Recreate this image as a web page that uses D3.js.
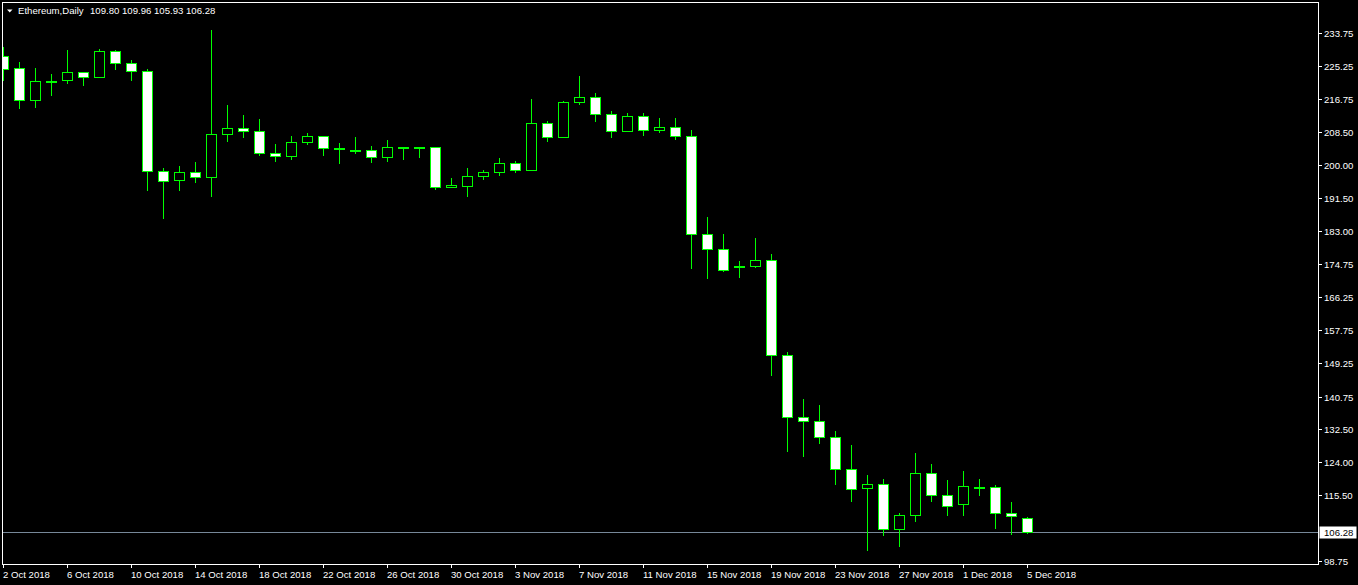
<!DOCTYPE html>
<html>
<head>
<meta charset="utf-8">
<script src="https://cdn.jsdelivr.net/npm/d3@7/dist/d3.min.js"></script>
<style>
  html, body { margin: 0; padding: 0; background: #000; }
  svg { display: block; }
  text { font-family: "Liberation Sans", Arial, sans-serif; }
</style>
</head>
<body>
<svg id="chart" width="1358" height="585"></svg>
<script>
// ---- data ----
const dates = [
  "2018-10-02","2018-10-03","2018-10-04","2018-10-05","2018-10-06","2018-10-07","2018-10-08","2018-10-09",
  "2018-10-10","2018-10-11","2018-10-12","2018-10-13","2018-10-14","2018-10-15","2018-10-16","2018-10-17",
  "2018-10-18","2018-10-19","2018-10-20","2018-10-21","2018-10-22","2018-10-23","2018-10-24","2018-10-25",
  "2018-10-26","2018-10-27","2018-10-28","2018-10-29","2018-10-30","2018-10-31","2018-11-01","2018-11-02",
  "2018-11-03","2018-11-04","2018-11-05","2018-11-06","2018-11-07","2018-11-08","2018-11-09","2018-11-10",
  "2018-11-11","2018-11-12","2018-11-13","2018-11-14","2018-11-15","2018-11-16","2018-11-17","2018-11-18",
  "2018-11-19","2018-11-20","2018-11-21","2018-11-22","2018-11-23","2018-11-24","2018-11-25","2018-11-26",
  "2018-11-27","2018-11-28","2018-11-29","2018-11-30","2018-12-01","2018-12-02","2018-12-03","2018-12-04",
  "2018-12-05"
];
const opens = [
  227.88,224.75,216.55,221.55,221.65,223.75,222.45,229.05,
  226.05,223.95,198.45,196.15,198.20,196.95,207.90,209.45,
  208.65,203.05,202.25,205.85,207.35,204.25,203.95,203.85,
  202.05,204.55,204.55,204.55,194.35,194.75,197.15,198.20,
  200.50,198.70,210.70,207.15,216.05,217.35,213.00,208.65,
  212.45,208.90,209.70,207.35,182.35,178.55,174.20,174.20,
  175.75,151.50,135.45,134.65,130.55,122.40,117.30,118.35,
  106.85,110.40,121.35,115.75,113.25,117.65,117.55,111.15,
  109.80
];
const highs = [
  230.25,226.35,224.80,223.30,229.40,223.75,229.65,229.40,
  226.85,224.45,199.25,199.80,200.85,234.55,215.35,212.85,
  211.80,205.45,207.45,208.25,207.35,205.65,207.25,204.95,
  206.45,204.55,204.55,204.55,196.75,199.25,198.75,201.85,
  201.05,216.95,211.25,216.40,222.75,218.45,213.75,213.25,
  213.25,212.05,212.05,209.00,186.80,182.45,175.55,181.45,
  177.35,152.25,140.10,138.55,131.95,128.35,120.70,119.65,
  111.00,126.35,123.50,119.45,121.75,119.65,118.15,113.80,
  109.96
];
const lows = [
  221.75,214.45,214.95,218.00,221.05,220.55,222.45,224.65,
  221.75,193.65,186.35,193.50,195.55,191.95,206.05,207.05,
  202.45,200.95,201.45,205.25,202.65,200.40,202.95,200.65,
  200.95,201.45,201.95,193.75,194.35,191.95,196.35,197.55,
  198.10,198.70,206.05,207.15,215.55,211.15,207.25,208.65,
  207.55,208.55,206.55,173.60,171.05,172.85,171.30,173.85,
  146.25,126.90,125.65,128.95,118.45,114.15,101.65,105.45,
  102.65,109.05,114.15,110.55,110.55,115.65,107.25,105.70,
  105.93
];
const closes = [
  224.64,216.55,221.45,221.55,223.75,222.45,229.05,226.05,
  223.95,198.45,195.95,198.20,196.95,207.90,209.45,208.65,
  203.05,202.25,205.85,207.35,204.35,204.25,203.95,202.05,
  204.55,204.55,204.55,194.35,194.85,197.15,198.20,200.50,
  198.70,210.70,207.15,216.05,217.35,213.00,208.65,212.45,
  208.90,209.70,207.35,182.35,178.55,173.20,174.20,175.75,
  151.50,135.45,134.65,130.55,122.40,117.05,118.35,106.85,
  110.40,121.35,115.75,112.70,117.80,117.65,111.15,110.15,
  106.28
];
const yTickLabels = ["233.75","225.25","216.75","208.50","200.00","191.50","183.00","174.75",
  "166.25","157.75","149.25","140.75","132.50","124.00","115.50","98.75"];
const xTickDates = ["2018-10-02","2018-10-06","2018-10-10","2018-10-14","2018-10-18","2018-10-22",
  "2018-10-26","2018-10-30","2018-11-03","2018-11-07","2018-11-11","2018-11-15","2018-11-19",
  "2018-11-23","2018-11-27","2018-12-01","2018-12-05"];
const symbolTitle = "Ethereum,Daily";
const lastBar = { open: "109.80", high: "109.96", low: "105.93", close: "106.28" };
const bidPrice = 106.28;

// ---- layout ----
const W = 1358, H = 585;
const plot = { left: 2, top: 2, right: 1318, bottom: 564 };
const GREEN = "#00ff00";
const parse = d3.utcParse("%Y-%m-%d");
const fmt = d3.utcFormat("%-d %b %Y");

const bars = dates.map((d, i) => ({ date: parse(d), o: opens[i], h: highs[i], l: lows[i], c: closes[i] }));

const x = d3.scaleUtc().domain([parse(dates[0]), parse(dates[dates.length - 1])]).range([3, 1027]);
const y = d3.scaleLinear().domain([98.75, 233.75]).range([561, 33]);

const svg = d3.select("#chart");
svg.append("rect").attr("width", W).attr("height", H).attr("fill", "#000");

svg.append("defs").append("clipPath").attr("id", "plotclip")
  .append("rect").attr("x", plot.left + 1).attr("y", plot.top + 1)
  .attr("width", plot.right - plot.left - 1).attr("height", plot.bottom - plot.top - 1);

const g = svg.append("g").attr("clip-path", "url(#plotclip)");

// bid line
const bidY = Math.round(y(bidPrice)) + 0.5;
g.append("line").attr("x1", plot.left).attr("x2", plot.right).attr("y1", bidY).attr("y2", bidY)
  .attr("stroke", "#778899").attr("stroke-width", 1);

// candles
const half = 5;
const cg = g.selectAll("g.candle").data(bars).join("g").attr("class", "candle");
cg.append("line")
  .attr("x1", d => Math.round(x(d.date)) + 0.5)
  .attr("x2", d => Math.round(x(d.date)) + 0.5)
  .attr("y1", d => Math.round(y(d.h)))
  .attr("y2", d => Math.round(y(d.l)) + 1)
  .attr("stroke", GREEN).attr("stroke-width", 1);
cg.append("rect")
  .attr("x", d => Math.round(x(d.date)) - half + 0.5)
  .attr("width", half * 2)
  .attr("y", d => Math.round(y(Math.max(d.o, d.c))) + 0.5)
  .attr("height", d => Math.max(1, Math.round(y(Math.min(d.o, d.c))) - Math.round(y(Math.max(d.o, d.c)))))
  .attr("fill", d => d.c < d.o ? "#ffffff" : "#000000")
  .attr("stroke", GREEN).attr("stroke-width", 1);

// frame
svg.append("rect")
  .attr("x", plot.left + 0.5).attr("y", plot.top + 0.5)
  .attr("width", plot.right - plot.left).attr("height", plot.bottom - plot.top)
  .attr("fill", "none").attr("stroke", "#ffffff").attr("stroke-width", 1);

// y axis
const ya = svg.append("g");
yTickLabels.forEach(t => {
  const yy = Math.round(y(+t)) + 0.5;
  ya.append("line").attr("x1", plot.right + 1).attr("x2", plot.right + 4)
    .attr("y1", yy).attr("y2", yy).attr("stroke", "#ffffff");
  ya.append("text").attr("x", plot.right + 6).attr("y", yy).attr("dy", "0.35em")
    .attr("fill", "#ffffff").attr("font-size", "9.6px").text(t);
});
// bid label box
ya.append("rect").attr("x", plot.right + 1.5).attr("y", bidY - 6)
  .attr("width", 37).attr("height", 12).attr("fill", "#ffffff");
ya.append("text").attr("x", plot.right + 6).attr("y", bidY).attr("dy", "0.35em")
  .attr("fill", "#000000").attr("font-size", "9.6px").text(bidPrice.toFixed(2));

// x axis
const xa = svg.append("g");
xTickDates.forEach(s => {
  const d = parse(s);
  const xx = Math.round(x(d)) + 0.5;
  xa.append("line").attr("x1", xx).attr("x2", xx).attr("y1", plot.bottom + 1).attr("y2", plot.bottom + 4)
    .attr("stroke", "#ffffff");
  xa.append("text").attr("x", xx - 0.5).attr("y", 577.5)
    .attr("fill", "#ffffff").attr("font-size", "9.6px").text(fmt(d));
});

// header
svg.append("path").attr("d", "M7,9.5 L12.5,9.5 L9.75,12.5 Z").attr("fill", "#ffffff");
svg.append("text").attr("x", 18).attr("y", 14).attr("fill", "#ffffff").attr("font-size", "9.6px")
  .text(symbolTitle);
svg.append("text").attr("x", 90).attr("y", 14).attr("fill", "#ffffff").attr("font-size", "9.6px")
  .text([lastBar.open, lastBar.high, lastBar.low, lastBar.close].join(" "));
</script>
</body>
</html>
